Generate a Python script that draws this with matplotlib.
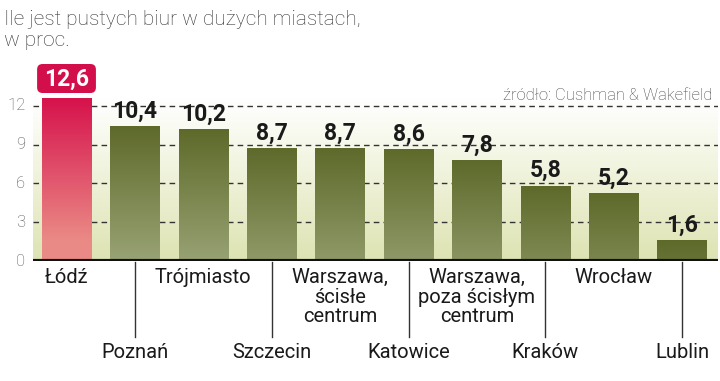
import numpy as np
import matplotlib.pyplot as plt
from matplotlib.colors import LinearSegmentedColormap, to_rgb
from matplotlib.patches import FancyBboxPatch
import matplotlib.transforms as mtransforms

# data
cities = ['Łódź', 'Poznań', 'Trójmiasto', 'Szczecin', 'Warszawa,\nścisłe\ncentrum',
          'Katowice', 'Warszawa,\npoza ścisłym\ncentrum', 'Kraków', 'Wrocław', 'Lublin']
values = [12.6, 10.4, 10.2, 8.7, 8.7, 8.6, 7.8, 5.8, 5.2, 1.6]
value_labels = ['12,6', '10,4', '10,2', '8,7', '8,7', '8,6', '7,8', '5,8', '5,2', '1,6']
yticks = [0, 3, 6, 9, 12]

TITLE = 'Ile jest pustych biur w dużych miastach,\nw proc.'
SOURCE = 'źródło: Cushman & Wakefield'

W, H = 720, 381
plt.rcParams['font.family'] = ['Roboto', 'DejaVu Sans']

fig = plt.figure(figsize=(W / 100, H / 100), dpi=100)
ax = fig.add_axes([33 / W, (H - 261) / H, 685 / W, (261 - 86.6) / H])
ax.set_xlim(-0.49, 9.525)
ax.set_ylim(0, 13.5)
ax.axis('off')

def ypix(p):
    # pixel row (from top) -> figure fraction
    return 1 - p / H

# background gradient: pale green at bottom fading to white
bg = LinearSegmentedColormap.from_list('bg', ['#dde3b2', '#eff2d9', '#ffffff'])
grad = np.linspace(0, 1, 256).reshape(-1, 1)
ax.imshow(grad, extent=[-0.49, 9.525, 0, 12.6], origin='lower', aspect='auto',
          cmap=bg, zorder=0)

# dashed grid
for t in yticks[1:]:
    ax.axhline(t, color='#333333', lw=1.0, ls=(0, (4, 3)), zorder=1)

x = np.arange(len(values))
bars = ax.bar(x, values, width=0.72, color='none', zorder=2)

def bar_gradient(patch, top_col, bot_col, span=11.0):
    x0 = patch.get_x()
    w = patch.get_width()
    h = patch.get_height()
    n = 200
    d = np.linspace(0, h, n)  # distance below the top
    frac = np.clip(d / span, 0, 1)
    tc, bc = np.array(to_rgb(top_col)), np.array(to_rgb(bot_col))
    cols = tc[None, :] * (1 - frac[:, None]) + bc[None, :] * frac[:, None]
    img = cols[::-1].reshape(n, 1, 3)  # bottom row first
    ax.imshow(img, extent=[x0, x0 + w, 0, h], origin='lower', aspect='auto',
              zorder=3, interpolation='bilinear')

for i, p in enumerate(bars):
    if i == 0:
        bar_gradient(p, '#d6124c', '#ea8a86')
    else:
        bar_gradient(p, '#5e6a2a', '#9ca679')

# baseline
ax.axhline(0, color='#111111', lw=3, zorder=4)

# y tick labels
for t in yticks:
    ax.text(-0.6, t, str(t), ha='right', va='center', fontsize=12,
            color='#555555', fontweight='light', clip_on=False)

# value labels
for i, (v, lab) in enumerate(zip(values, value_labels)):
    if i == 0:
        continue
    ax.text(i, v + 0.3, lab, ha='center', va='bottom', fontsize=16.5,
            fontweight='bold', color='#1a1a1a', zorder=5, clip_on=False)

# red callout for the first bar
trans = mtransforms.blended_transform_factory(ax.transData, fig.transFigure)
box = FancyBboxPatch((-0.43, ypix(93)), 0.86, (93 - 64) / H,
                     boxstyle='round,pad=0,rounding_size=0.08',
                     transform=trans, facecolor='#d30f4b', edgecolor='none',
                     clip_on=False, zorder=5, mutation_aspect=(1 / H) / (1 / 68.4))
ax.add_patch(box)
ax.text(0, ypix(79), value_labels[0], transform=trans, ha='center', va='center',
        fontsize=16.5, fontweight='bold', color='white', zorder=6)

# category labels, alternating rows
for i, name in enumerate(cities):
    if i % 2 == 0:
        ax.text(i, ypix(268), name, transform=trans, ha='center', va='top',
                fontsize=14.5, color='#1a1a1a', linespacing=1.05)
    else:
        ax.plot([i, i], [ypix(262), ypix(337)], transform=trans, color='#333333',
                lw=1, clip_on=False)
        ax.text(i, ypix(352), name, transform=trans, ha='center', va='center',
                fontsize=14.5, color='#1a1a1a')

fig.text(4 / W, ypix(10), TITLE, ha='left', va='top', fontsize=15,
         color='#333333', fontweight='light', linespacing=1.12)
fig.text(712 / W, ypix(95), SOURCE, ha='right', va='center', fontsize=12,
         color='#444444', fontweight='light')

fig.savefig('out.png', dpi=100)
